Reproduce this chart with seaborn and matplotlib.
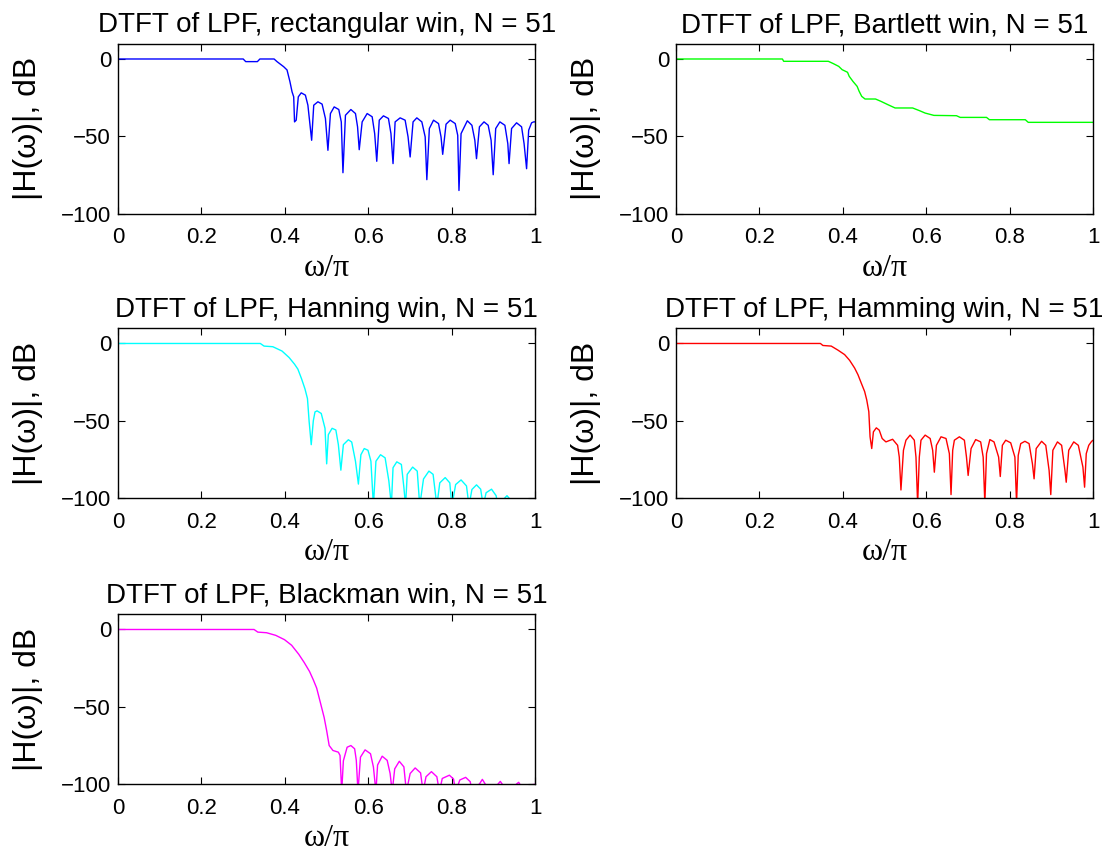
import numpy as np
import pandas as pd
import matplotlib
matplotlib.use("Agg")
import matplotlib.pyplot as plt
import seaborn as sns
from matplotlib.ticker import FuncFormatter

# values (w in units of pi, magnitude in dB)
rect_w = [0, 0.300, 0.306, 0.334, 0.340, 0.374, 0.381, 0.397, 0.405, 0.412, 0.417, 0.421, 0.423, 0.427,
          0.432, 0.439, 0.449, 0.455, 0.464, 0.469, 0.479, 0.489, 0.497, 0.503, 0.509, 0.518, 0.529, 0.535,
          0.539, 0.545, 0.558, 0.569, 0.574, 0.578, 0.585, 0.597, 0.609, 0.615, 0.620, 0.626, 0.636, 0.648,
          0.654, 0.659, 0.664, 0.676, 0.688, 0.695, 0.700, 0.707, 0.716, 0.728, 0.736, 0.740, 0.746, 0.756,
          0.768, 0.774, 0.778, 0.786, 0.796, 0.808, 0.814, 0.817, 0.822, 0.837, 0.848, 0.855, 0.859, 0.866,
          0.877, 0.887, 0.894, 0.899, 0.905, 0.915, 0.927, 0.934, 0.937, 0.943, 0.955, 0.967, 0.973, 0.979,
          0.984, 0.991, 0.996, 1.0]
rect_db = [0, 0, -1.7, -1.7, 0, 0, -1.7, -5.0, -7.1, -14.7, -21.2, -24.5, -40.7, -39.6,
           -24.5, -21.9, -23.4, -29.9, -52.6, -29.9, -27.7, -29.2, -38.5, -59.1, -35.3, -31.0, -32.7, -40.7,
           -73.6, -36.4, -32.7, -35.3, -43.9, -58.7, -40.7, -35.3, -37.4, -48.3, -66.2, -39.6, -36.8, -38.5,
           -48.3, -67.7, -40.7, -38.1, -39.6, -50.4, -63.4, -40.7, -38.1, -40.7, -50.4, -78.1, -45.0, -39.6,
           -41.8, -50.4, -61.7, -42.2, -39.6, -41.8, -49.4, -85.1, -48.3, -40.0, -42.9, -52.6, -64.5, -43.9,
           -40.7, -42.9, -52.6, -74.9, -45.0, -40.7, -42.9, -54.8, -67.7, -45.0, -41.3, -43.9, -54.8, -71.0,
           -46.1, -41.3, -40.7, -40.7]

bart_w = [0, 0.255, 0.258, 0.365, 0.377, 0.390, 0.398, 0.411, 0.415, 0.424, 0.434, 0.439, 0.445, 0.453,
          0.478, 0.491, 0.508, 0.525, 0.567, 0.584, 0.597, 0.618, 0.672, 0.681, 0.744, 0.751, 0.837, 0.844, 1.0]
bart_db = [0, 0, -1.5, -1.5, -3.0, -4.8, -6.9, -8.6, -11.2, -14.5, -17.7, -21.0, -24.2, -25.9,
           -25.9, -27.4, -29.6, -31.7, -31.7, -33.5, -35.0, -36.5, -36.7, -37.8, -37.8, -39.3, -39.3, -41.0, -41.0]

hann_w = [0, 0.341, 0.350, 0.371, 0.393, 0.410, 0.423, 0.431, 0.440, 0.448, 0.454, 0.458, 0.463, 0.468,
          0.472, 0.477, 0.487, 0.496, 0.500, 0.504, 0.513, 0.522, 0.528, 0.534, 0.540, 0.552, 0.560, 0.569,
          0.576, 0.582, 0.590, 0.599, 0.606, 0.612, 0.618, 0.629, 0.640, 0.649, 0.655, 0.659, 0.668, 0.679,
          0.685, 0.689, 0.693, 0.706, 0.717, 0.723, 0.732, 0.745, 0.755, 0.764, 0.771, 0.784, 0.795, 0.800,
          0.809, 0.822, 0.835, 0.841, 0.848, 0.859, 0.869, 0.875, 0.882, 0.895, 0.906, 0.910, 0.925, 0.932,
          0.940, 0.945, 0.960, 0.975, 0.985, 1.0]
hann_db = [0, 0, -1.7, -2.1, -4.9, -9.1, -13.4, -16.6, -23.0, -29.4, -35.7, -50.6, -65.5, -50.0,
           -44.3, -43.6, -45.3, -54.9, -77.9, -59.0, -54.9, -56.0, -65.5, -82.0, -65.5, -62.3, -63.8, -76.2,
           -91.0, -72.0, -68.0, -69.1, -76.2, -105, -76.2, -72.0, -74.0, -89.0, -105, -80.4, -76.6, -78.3,
           -93.2, -105, -84.7, -80.0, -82.6, -105, -87.7, -82.6, -84.7, -105, -90.2, -86.8, -90.2, -105,
           -91.3, -88.3, -92.2, -105, -94.5, -91.5, -94.3, -105, -96.6, -94.3, -98.5, -105, -100.5, -98.5,
           -101, -108, -103, -110, -104, -106]

hamm_w = [0, 0.346, 0.352, 0.372, 0.388, 0.404, 0.416, 0.428, 0.436, 0.444, 0.452, 0.457, 0.462, 0.465,
          0.469, 0.473, 0.480, 0.487, 0.494, 0.503, 0.519, 0.531, 0.535, 0.539, 0.545, 0.551, 0.561, 0.571,
          0.575, 0.579, 0.583, 0.587, 0.597, 0.609, 0.615, 0.619, 0.624, 0.635, 0.647, 0.655, 0.659, 0.663,
          0.667, 0.679, 0.691, 0.696, 0.700, 0.707, 0.718, 0.730, 0.736, 0.740, 0.744, 0.752, 0.762, 0.773,
          0.777, 0.782, 0.790, 0.802, 0.812, 0.816, 0.820, 0.826, 0.836, 0.846, 0.854, 0.858, 0.863, 0.876,
          0.886, 0.894, 0.898, 0.903, 0.914, 0.924, 0.932, 0.935, 0.941, 0.953, 0.964, 0.975, 0.979, 0.983,
          0.989, 0.996, 1.0]
hamm_db = [0, 0, -1.3, -1.7, -4.3, -7.2, -10.9, -15.9, -20.2, -25.7, -31.1, -36.5, -44.1, -60.4,
           -68.0, -57.2, -54.6, -56.1, -61.5, -63.7, -62.0, -65.9, -73.5, -94.8, -69.1, -62.6, -59.3, -62.6,
           -73.5, -103.9, -73.5, -62.6, -59.3, -61.5, -69.1, -83.3, -65.9, -60.4, -61.5, -71.3, -97.8, -69.1,
           -62.6, -60.4, -62.6, -73.5, -85.4, -68.0, -62.2, -63.7, -73.5, -103.5, -71.3, -62.2, -63.7, -73.5,
           -86.1, -65.9, -62.6, -64.3, -73.5, -103.5, -72.4, -64.8, -63.3, -64.8, -77.8, -87.6, -68.0, -63.3,
           -65.9, -82.2, -97.8, -69.1, -63.7, -65.9, -82.2, -89.8, -69.1, -63.7, -65.9, -80.0, -93.0, -71.3,
           -65.9, -63.3, -62.5]

black_w = [0, 0.326, 0.335, 0.356, 0.378, 0.399, 0.416, 0.433, 0.446, 0.459, 0.468, 0.476, 0.485, 0.494,
           0.500, 0.506, 0.515, 0.528, 0.532, 0.536, 0.540, 0.549, 0.558, 0.567, 0.571, 0.575, 0.581, 0.592,
           0.605, 0.612, 0.618, 0.622, 0.633, 0.645, 0.652, 0.657, 0.663, 0.674, 0.685, 0.691, 0.700, 0.712,
           0.725, 0.731, 0.738, 0.751, 0.764, 0.770, 0.777, 0.794, 0.804, 0.809, 0.819, 0.833, 0.844, 0.848,
           0.867, 0.873, 0.882, 0.890, 0.910, 0.916, 0.923, 0.935, 0.955, 0.960, 0.965, 0.975, 0.990, 1.0]
black_db = [0, 0, -1.7, -2.1, -3.8, -6.6, -10.2, -16.0, -21.3, -27.2, -32.6, -37.9, -47.4, -57.0,
            -65.5, -75.1, -78.3, -79.4, -81.5, -105, -85.0, -76.2, -75.1, -77.2, -84.7, -105, -82.6, -77.9,
            -80.4, -89.0, -105, -87.7, -82.0, -84.7, -93.2, -105, -90.2, -85.3, -88.9, -105, -93.2, -89.6,
            -92.8, -105, -95.3, -92.0, -95.3, -105, -96.4, -94.3, -96.8, -105, -97.4, -95.7, -98.5, -105,
            -99.6, -97.0, -101, -106, -100.2, -98.3, -101, -106, -100, -98.9, -101, -106, -100.5, -100.2]

win_names = ["rectangular", "Bartlett", "Hanning", "Hamming", "Blackman"]
win_colors = ["#0000ff", "#00ff00", "#00ffff", "#ff0000", "#ff00ff"]
curves = [(rect_w, rect_db), (bart_w, bart_db), (hann_w, hann_db), (hamm_w, hamm_db), (black_w, black_db)]
N = 51

sns.set_style("ticks")
plt.rcParams["font.family"] = ["Liberation Sans", "DejaVu Sans"]
plt.rcParams["text.color"] = "black"
plt.rcParams["axes.labelcolor"] = "black"

# MATLAB style tick text: "0.2", "1", "−50"
tick_fmt = FuncFormatter(lambda v, pos: f"{v:g}".replace("-", "\u2212"))

fig = plt.figure(figsize=(11.10, 8.52), dpi=100)

# axes boxes [left, bottom, width, height] in figure fractions, MATLAB subplot(3,2,k) style
lefts = [0.1063, 0.609]
bottoms = [0.7494, 0.4155, 0.0798]
w_ax, h_ax = 0.376, 0.1995

for k, (name, col, (w, db)) in enumerate(zip(win_names, win_colors, curves)):
    r, c = divmod(k, 2)
    ax = fig.add_axes([lefts[c], bottoms[r], w_ax, h_ax])
    df = pd.DataFrame({"w": w, "db": db})
    sns.lineplot(data=df, x="w", y="db", ax=ax, color=col, linewidth=1.0,
                 sort=False, estimator=None)
    ax.set_xlim(0, 1)
    ax.set_ylim(-100, 10)
    ax.set_xticks([0, 0.2, 0.4, 0.6, 0.8, 1])
    ax.set_yticks([-100, -50, 0])
    ax.xaxis.set_major_formatter(tick_fmt)
    ax.yaxis.set_major_formatter(tick_fmt)
    ax.tick_params(direction="in", top=True, right=True, length=5, width=0.8,
                   labelsize=16, colors="black")
    ax.tick_params(axis="x", pad=10)
    ax.tick_params(axis="y", pad=5)
    for s in ax.spines.values():
        s.set_visible(True)
        s.set_linewidth(1.0)
        s.set_color("black")
    ax.set_title(f"DTFT of LPF, {name} win, N = {N}", fontsize=20, pad=8, color="black")
    ax.set_xlabel("ω/π", fontsize=23, family=["Liberation Serif", "DejaVu Serif"], labelpad=4)
    ax.set_ylabel("|H(ω)|, dB", fontsize=23)
    ax.yaxis.set_label_coords(-0.18, 0.5)

fig.savefig("out.png", dpi=100, facecolor="white")
